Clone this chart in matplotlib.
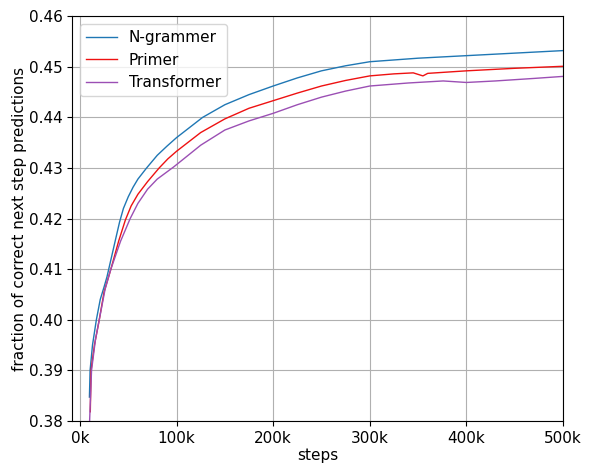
import matplotlib
matplotlib.use("Agg")
import matplotlib.pyplot as plt
from matplotlib.ticker import FuncFormatter

# (steps in thousands)
ngram_steps = [9.8, 10.5, 13, 17, 21, 25, 28, 31, 34, 37, 41, 45, 50, 55, 60, 69,
               80, 90, 100, 127, 150, 175, 200, 225, 250, 275, 300, 350, 400,
               450, 500]
ngram_acc = [0.3847, 0.390, 0.395, 0.400, 0.404, 0.4065, 0.4085, 0.411, 0.4135,
             0.4160, 0.4193, 0.4220, 0.4243, 0.4262, 0.4278, 0.4300, 0.4325,
             0.4343, 0.4360, 0.4400, 0.4425, 0.4445, 0.4462, 0.4478, 0.4492,
             0.4502, 0.4510, 0.4517, 0.4522, 0.4527, 0.4532]

primer_steps = [10.7, 11.5, 15, 20, 25, 32, 40, 47, 53, 60, 70, 82, 91, 100, 125,
                150, 175, 200, 225, 250, 275, 300, 325, 345, 350, 355, 360, 400,
                450, 500]
primer_acc = [0.3818, 0.390, 0.395, 0.400, 0.4055, 0.410, 0.4155, 0.4197, 0.4225,
              0.4248, 0.4273, 0.4300, 0.4318, 0.4333, 0.4370, 0.4397, 0.4418,
              0.4433, 0.4448, 0.4462, 0.4473, 0.4482, 0.4486, 0.4488, 0.4485,
              0.4482, 0.4487, 0.4492, 0.4497, 0.4501]

trans_steps = [10, 12, 16, 20, 26, 32, 42, 52, 60, 70, 80, 97, 112, 125, 150,
               175, 200, 225, 250, 275, 300, 340, 376, 400, 430, 470, 500]
trans_acc = [0.380, 0.390, 0.396, 0.400, 0.406, 0.410, 0.4155, 0.4200, 0.4230,
             0.4258, 0.4278, 0.4302, 0.4325, 0.4345, 0.4375, 0.4393, 0.4408,
             0.4425, 0.4440, 0.4452, 0.4462, 0.4468, 0.4472, 0.4469, 0.4472,
             0.4477, 0.4481]

plt.rcParams['font.size'] = 11

fig = plt.figure(figsize=(5.92, 4.63), dpi=100)
ax = fig.add_axes([0.122, 0.091, 0.829, 0.874])

ax.plot([s * 1000 for s in ngram_steps], ngram_acc, c='#1f77b4', lw=1.0, label='N-grammer')
ax.plot([s * 1000 for s in primer_steps], primer_acc, c='#ee1111', lw=1.0, label='Primer')
ax.plot([s * 1000 for s in trans_steps], trans_acc, c='#9b4fb4', lw=1.0, label='Transformer')

ax.set_xlim(-8000, 500000)
ax.set_ylim(0.38, 0.46)
ax.set_xticks(range(0, 500001, 100000))
ax.xaxis.set_major_formatter(FuncFormatter(lambda v, p: '%dk' % (v / 1000)))
ax.yaxis.set_major_formatter(FuncFormatter(lambda v, p: '%.2f' % v))
ax.grid(True, color='#b0b0b0', lw=0.8)
ax.set_xlabel('steps', labelpad=2)
ax.set_ylabel('fraction of correct next step predictions', labelpad=1)
ax.legend(loc='upper left')

fig.savefig('out.png', dpi=100)
